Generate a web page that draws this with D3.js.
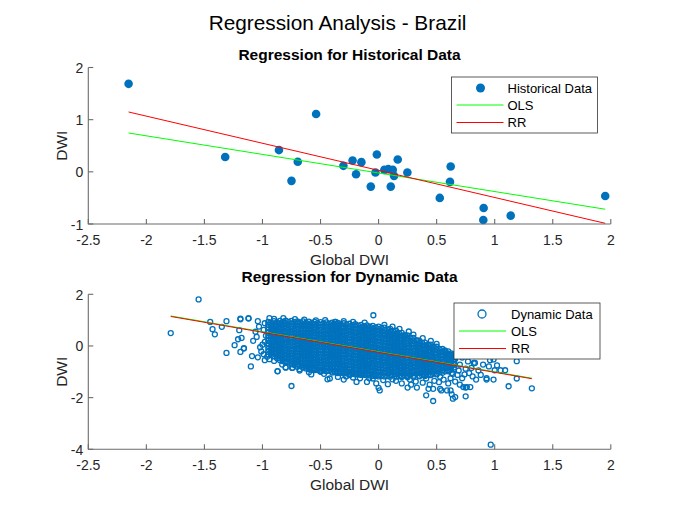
<!DOCTYPE html>
<meta charset="utf-8">
<style>
body {
  margin: 0;
  background: #fff;
}
text {
  font-family: "Liberation Sans", Arial, sans-serif;
  fill: #262626;
}
.axis-line {
  fill: none;
  stroke: #6b6b6b;
  stroke-width: 1.1px;
}
.tick-label {
  font-size: 14px;
}
.ax-label {
  font-size: 15.5px;
}
.sub-title {
  font-size: 15.5px;
  font-weight: bold;
  fill: #000;
}
.main-title {
  font-size: 20.8px;
  fill: #000;
}
.legend-box {
  fill: #fff;
  stroke: #333;
  stroke-width: .8px;
}
.legend-text {
  font-size: 13px;
  fill: #000;
}
</style>
<body>
<script src="https://d3js.org/d3.v7.min.js"></script>
<script>

var width = 675,
    height = 506;

var blue = "#0072BD",
    green = "#00ff00",
    red = "#ff0000";

// tick labels
var xTicks = [-2.5, -2, -1.5, -1, -0.5, 0, 0.5, 1, 1.5, 2];
var histYTicks = [-1, 0, 1, 2];
var dynYTicks = [-4, -2, 0, 2];

// historical data
var histX = [-2.153, -1.321, -0.858, -0.750, -0.696, -0.538, -0.303, -0.224, -0.194,
  -0.148, -0.067, -0.015, -0.027, 0.050, 0.084, 0.122, 0.133, 0.105, 0.165, 0.248,
  0.527, 0.621, 0.615, 0.905, 0.902, 1.138, 1.952];
var histY = [1.687, 0.283, 0.417, -0.173, 0.192, 1.109, 0.115, 0.218, -0.045,
  0.186, -0.283, 0.333, -0.013, 0.038, 0.051, 0.038, -0.077, -0.283, 0.237, -0.013,
  -0.500, 0.102, -0.192, -0.692, -0.923, -0.840, -0.462];

// fitted lines [intercept, slope]
var histOlsCoef = [-0.022, -0.356];
var histRrCoef = [0.028, -0.520];
var dynOlsCoef = [-0.225, -0.775];
var dynRrCoef = [-0.245, -0.775];

// dynamic data: dense core, read column by column
var dynCoreX = [-0.95, -0.90, -0.85, -0.80, -0.75, -0.70, -0.65, -0.60, -0.55, -0.50,
  -0.45, -0.40, -0.35, -0.30, -0.25, -0.20, -0.15, -0.10, -0.05, 0.00,
  0.05, 0.10, 0.15, 0.20, 0.25, 0.30, 0.35, 0.40, 0.45, 0.50, 0.55, 0.60, 0.65];
var dynCoreY = [
  [0.93, 0.83, 0.72, 0.62, 0.52, 0.41, 0.31, 0.21, 0.10, 0.00, -0.11, -0.22, -0.33],
  [0.96, 0.85, 0.75, 0.64, 0.54, 0.44, 0.33, 0.23, 0.12, 0.02, -0.09, -0.19, -0.30, -0.40],
  [0.97, 0.87, 0.77, 0.66, 0.56, 0.46, 0.35, 0.25, 0.15, 0.04, -0.06, -0.17, -0.27, -0.38, -0.48, -0.55],
  [0.98, 0.88, 0.77, 0.67, 0.56, 0.46, 0.35, 0.25, 0.14, 0.04, -0.07, -0.17, -0.28, -0.38, -0.49, -0.59, -0.64],
  [0.97, 0.86, 0.76, 0.66, 0.55, 0.45, 0.34, 0.24, 0.13, 0.03, -0.08, -0.18, -0.29, -0.39, -0.50, -0.60, -0.71],
  [0.95, 0.85, 0.74, 0.64, 0.53, 0.43, 0.32, 0.22, 0.11, 0.01, -0.10, -0.20, -0.31, -0.41, -0.52, -0.62, -0.72, -0.80],
  [0.95, 0.84, 0.74, 0.63, 0.53, 0.42, 0.32, 0.21, 0.11, 0.00, -0.10, -0.21, -0.31, -0.42, -0.52, -0.63, -0.74, -0.84],
  [0.94, 0.84, 0.73, 0.63, 0.52, 0.42, 0.31, 0.21, 0.10, 0.00, -0.11, -0.21, -0.32, -0.42, -0.53, -0.63, -0.74, -0.84, -0.90],
  [0.93, 0.83, 0.72, 0.62, 0.51, 0.41, 0.30, 0.20, 0.09, -0.01, -0.12, -0.22, -0.33, -0.43, -0.54, -0.64, -0.75, -0.85, -0.93],
  [0.92, 0.82, 0.71, 0.61, 0.50, 0.40, 0.29, 0.19, 0.08, -0.02, -0.13, -0.23, -0.34, -0.44, -0.55, -0.65, -0.76, -0.86, -0.95],
  [0.91, 0.81, 0.70, 0.60, 0.49, 0.39, 0.28, 0.18, 0.07, -0.03, -0.14, -0.24, -0.35, -0.45, -0.56, -0.66, -0.77, -0.87, -0.98],
  [0.90, 0.80, 0.69, 0.59, 0.48, 0.38, 0.27, 0.17, 0.06, -0.04, -0.15, -0.25, -0.36, -0.46, -0.57, -0.67, -0.78, -0.88, -0.99, -1.03],
  [0.89, 0.79, 0.68, 0.58, 0.47, 0.37, 0.26, 0.16, 0.05, -0.05, -0.16, -0.26, -0.37, -0.47, -0.58, -0.68, -0.79, -0.89, -0.99, -1.05],
  [0.88, 0.77, 0.67, 0.56, 0.46, 0.35, 0.25, 0.14, 0.04, -0.07, -0.17, -0.28, -0.38, -0.49, -0.59, -0.70, -0.80, -0.91, -1.01, -1.07],
  [0.86, 0.76, 0.65, 0.55, 0.44, 0.34, 0.23, 0.13, 0.02, -0.08, -0.19, -0.29, -0.40, -0.50, -0.61, -0.71, -0.82, -0.92, -1.03, -1.09],
  [0.84, 0.74, 0.63, 0.53, 0.42, 0.32, 0.21, 0.11, 0.00, -0.10, -0.21, -0.31, -0.42, -0.52, -0.63, -0.73, -0.84, -0.94, -1.04, -1.10],
  [0.82, 0.72, 0.61, 0.51, 0.40, 0.30, 0.19, 0.09, -0.02, -0.12, -0.23, -0.33, -0.44, -0.54, -0.65, -0.75, -0.86, -0.96, -1.06, -1.12],
  [0.80, 0.70, 0.59, 0.49, 0.38, 0.28, 0.17, 0.07, -0.04, -0.14, -0.25, -0.35, -0.46, -0.56, -0.67, -0.77, -0.88, -0.98, -1.08, -1.14],
  [0.78, 0.68, 0.57, 0.47, 0.36, 0.26, 0.15, 0.05, -0.06, -0.16, -0.27, -0.37, -0.48, -0.58, -0.69, -0.79, -0.90, -1.00, -1.10, -1.16],
  [0.75, 0.65, 0.54, 0.44, 0.33, 0.23, 0.12, 0.02, -0.09, -0.19, -0.30, -0.40, -0.51, -0.61, -0.72, -0.82, -0.93, -1.03, -1.13, -1.18],
  [0.71, 0.61, 0.50, 0.40, 0.29, 0.19, 0.08, -0.02, -0.13, -0.23, -0.34, -0.44, -0.55, -0.65, -0.76, -0.86, -0.97, -1.07, -1.18],
  [0.66, 0.56, 0.45, 0.35, 0.24, 0.14, 0.03, -0.07, -0.18, -0.28, -0.39, -0.49, -0.60, -0.70, -0.81, -0.91, -1.02, -1.12, -1.19],
  [0.59, 0.49, 0.38, 0.28, 0.17, 0.07, -0.04, -0.14, -0.25, -0.35, -0.46, -0.56, -0.67, -0.77, -0.88, -0.98, -1.09, -1.19],
  [0.51, 0.41, 0.30, 0.20, 0.09, -0.01, -0.12, -0.22, -0.33, -0.43, -0.54, -0.64, -0.75, -0.85, -0.96, -1.06, -1.16, -1.20],
  [0.41, 0.31, 0.20, 0.10, -0.01, -0.11, -0.22, -0.32, -0.43, -0.53, -0.64, -0.74, -0.85, -0.95, -1.06, -1.16, -1.21],
  [0.31, 0.21, 0.10, 0.00, -0.11, -0.21, -0.32, -0.42, -0.53, -0.63, -0.74, -0.84, -0.95, -1.05, -1.15, -1.19],
  [0.21, 0.11, 0.00, -0.10, -0.21, -0.31, -0.42, -0.52, -0.63, -0.73, -0.84, -0.94, -1.05, -1.15, -1.18],
  [0.13, 0.03, -0.08, -0.18, -0.29, -0.39, -0.50, -0.60, -0.71, -0.81, -0.92, -1.02, -1.12, -1.16],
  [0.05, -0.05, -0.16, -0.26, -0.37, -0.47, -0.58, -0.68, -0.79, -0.89, -1.00, -1.10, -1.13],
  [-0.03, -0.13, -0.24, -0.34, -0.45, -0.55, -0.66, -0.76, -0.87, -0.97, -1.07, -1.10],
  [-0.11, -0.21, -0.32, -0.42, -0.53, -0.63, -0.74, -0.84, -0.95, -1.04],
  [-0.21, -0.31, -0.42, -0.52, -0.63, -0.73, -0.84, -0.94, -0.98],
  [-0.31, -0.41, -0.52, -0.62, -0.73, -0.83, -0.90]
];

// dynamic data: dense core, in-between columns
var dynMidX = [-0.925, -0.875, -0.825, -0.775, -0.725, -0.675, -0.625, -0.575, -0.525, -0.475,
  -0.425, -0.375, -0.325, -0.275, -0.225, -0.175, -0.125, -0.075, -0.025, 0.025,
  0.075, 0.125, 0.175, 0.225, 0.275, 0.325, 0.375, 0.425, 0.475, 0.525, 0.575, 0.625];
var dynMidY = [
  [0.90, 0.77, 0.64, 0.51, 0.38, 0.25, 0.12, -0.01, -0.14, -0.27, -0.36],
  [0.92, 0.79, 0.66, 0.53, 0.40, 0.27, 0.14, 0.01, -0.12, -0.25, -0.38, -0.48],
  [0.93, 0.80, 0.67, 0.54, 0.41, 0.28, 0.15, 0.02, -0.11, -0.24, -0.37, -0.50, -0.59],
  [0.93, 0.80, 0.67, 0.54, 0.41, 0.28, 0.15, 0.02, -0.11, -0.24, -0.37, -0.50, -0.63],
  [0.92, 0.79, 0.66, 0.53, 0.40, 0.27, 0.14, 0.01, -0.12, -0.25, -0.38, -0.51, -0.64, -0.74],
  [0.91, 0.78, 0.65, 0.52, 0.39, 0.26, 0.13, 0.00, -0.13, -0.26, -0.39, -0.52, -0.65, -0.78],
  [0.90, 0.77, 0.64, 0.51, 0.38, 0.25, 0.12, -0.01, -0.14, -0.27, -0.40, -0.53, -0.66, -0.79, -0.87],
  [0.89, 0.76, 0.63, 0.50, 0.37, 0.24, 0.11, -0.02, -0.15, -0.28, -0.41, -0.54, -0.67, -0.80, -0.90],
  [0.88, 0.75, 0.62, 0.49, 0.36, 0.23, 0.10, -0.03, -0.16, -0.29, -0.42, -0.55, -0.68, -0.81, -0.93],
  [0.87, 0.74, 0.61, 0.48, 0.35, 0.22, 0.09, -0.04, -0.17, -0.30, -0.43, -0.56, -0.69, -0.82, -0.95],
  [0.86, 0.73, 0.60, 0.47, 0.34, 0.21, 0.08, -0.05, -0.18, -0.31, -0.44, -0.57, -0.70, -0.83, -0.96],
  [0.85, 0.72, 0.59, 0.46, 0.33, 0.20, 0.07, -0.06, -0.19, -0.32, -0.45, -0.58, -0.71, -0.84, -0.97, -1.02],
  [0.84, 0.71, 0.58, 0.45, 0.32, 0.19, 0.06, -0.07, -0.20, -0.33, -0.46, -0.59, -0.72, -0.85, -0.98, -1.04],
  [0.83, 0.70, 0.57, 0.44, 0.31, 0.18, 0.05, -0.08, -0.21, -0.34, -0.47, -0.60, -0.73, -0.86, -0.99, -1.06],
  [0.81, 0.68, 0.55, 0.42, 0.29, 0.16, 0.03, -0.10, -0.23, -0.36, -0.49, -0.62, -0.75, -0.88, -1.01, -1.08],
  [0.79, 0.66, 0.53, 0.40, 0.27, 0.14, 0.01, -0.12, -0.25, -0.38, -0.51, -0.64, -0.77, -0.90, -1.03, -1.10],
  [0.77, 0.64, 0.51, 0.38, 0.25, 0.12, -0.01, -0.14, -0.27, -0.40, -0.53, -0.66, -0.79, -0.92, -1.05, -1.12],
  [0.75, 0.62, 0.49, 0.36, 0.23, 0.10, -0.03, -0.16, -0.29, -0.42, -0.55, -0.68, -0.81, -0.94, -1.07, -1.14],
  [0.72, 0.59, 0.46, 0.33, 0.20, 0.07, -0.06, -0.19, -0.32, -0.45, -0.58, -0.71, -0.84, -0.97, -1.10, -1.16],
  [0.69, 0.56, 0.43, 0.30, 0.17, 0.04, -0.09, -0.22, -0.35, -0.48, -0.61, -0.74, -0.87, -1.00, -1.13],
  [0.64, 0.51, 0.38, 0.25, 0.12, -0.01, -0.14, -0.27, -0.40, -0.53, -0.66, -0.79, -0.92, -1.05, -1.17],
  [0.58, 0.45, 0.32, 0.19, 0.06, -0.07, -0.20, -0.33, -0.46, -0.59, -0.72, -0.85, -0.98, -1.11],
  [0.51, 0.38, 0.25, 0.12, -0.01, -0.14, -0.27, -0.40, -0.53, -0.66, -0.79, -0.92, -1.05, -1.17],
  [0.42, 0.29, 0.16, 0.03, -0.10, -0.23, -0.36, -0.49, -0.62, -0.75, -0.88, -1.01, -1.14],
  [0.32, 0.19, 0.06, -0.07, -0.20, -0.33, -0.46, -0.59, -0.72, -0.85, -0.98, -1.11],
  [0.22, 0.09, -0.04, -0.17, -0.30, -0.43, -0.56, -0.69, -0.82, -0.95, -1.08],
  [0.13, 0.00, -0.13, -0.26, -0.39, -0.52, -0.65, -0.78, -0.91, -1.04, -1.13],
  [0.05, -0.08, -0.21, -0.34, -0.47, -0.60, -0.73, -0.86, -0.99, -1.10],
  [-0.03, -0.16, -0.29, -0.42, -0.55, -0.68, -0.81, -0.94, -1.07],
  [-0.11, -0.24, -0.37, -0.50, -0.63, -0.76, -0.89, -1.02],
  [-0.20, -0.33, -0.46, -0.59, -0.72, -0.85, -0.98],
  [-0.29, -0.42, -0.55, -0.68, -0.81, -0.92]
];

// dynamic data: scattered points around the core
var dynFringe = [
  [-1.55, 1.80], [-1.79, 0.50], [-1.45, 0.93], [-1.43, 0.65], [-1.41, 0.45], [-1.35, 0.74],
  [-1.31, 0.96], [-1.31, -0.27], [-1.24, 0.03], [-1.19, 1.03], [-1.19, -0.23], [-1.16, -0.08],
  [-1.20, 0.61], [-1.12, 1.08], [-1.21, 0.26], [-1.18, 0.31], [-1.10, -0.79], [-1.09, -0.39],
  [-1.04, -0.44], [-1.01, -0.21], [-0.98, -0.55], [-0.94, -0.51], [-0.87, -0.98], [-0.80, -0.82],
  [-0.75, -1.55], [-0.745, -0.85], [-0.60, -1.02], [-0.55, -0.90], [-0.50, -0.98], [-0.44, -1.29],
  [-0.94, 1.08], [-1.04, 0.96], [-1.16, -0.10], [-1.19, 1.06], [-1.12, 1.06], [-0.54, 0.99],
  [-0.37, 0.93], [-0.87, -0.97], [-0.80, -0.84], [-0.74, -0.84], [-0.50, -1.00], [-0.42, -1.26],
  [-0.25, -1.13], [-0.19, -1.39], [-0.10, -1.39], [-1.06, 0.55], [-1.08, 0.20], [-1.03, 0.75],
  [-1.00, 0.05], [-1.05, 0.35], [-0.99, -0.32], [-0.90, 1.05], [-0.82, 1.08], [-0.72, 1.04],
  [-0.64, 1.02], [-0.46, 1.00], [-0.30, 0.96], [-0.22, 0.93], [-0.12, 0.90], [-0.045, 1.19],
  [-0.375, 0.93], [0.05, 0.82], [0.12, 0.75], [0.18, 0.66], [0.23, 0.38], [0.30, 0.44],
  [0.33, 0.22], [0.26, 0.56], [0.38, 0.30], [0.45, 0.20], [0.50, 0.08], [0.47, -2.13],
  [0.41, -1.91], [0.63, -1.87], [0.64, -2.04], [0.66, -1.98], [0.75, -1.95], [0.75, -1.61],
  [0.01, -1.72], [0.00, -1.62], [0.33, -1.61], [0.43, -1.66], [0.47, -1.66], [0.53, -1.66],
  [0.59, -1.72], [0.25, -1.61], [-0.30, -1.30], [1.12, -1.56], [1.32, -1.64], [1.19, -0.59],
  [1.09, -0.94], [1.05, -0.94], [1.00, -0.94], [0.99, -1.30], [0.93, -1.30], [0.95, -0.79],
  [0.82, -0.66], [0.57, -0.17], [0.58, -0.25], [1.19, -1.26], [0.93, -1.25], [0.83, -0.66],
  [0.79, -1.59], [0.76, -1.59], [0.73, -1.59], [0.62, -1.72], [0.54, -1.72], [0.966, -3.82],
  [0.62, -0.35], [0.66, -0.50], [0.70, -0.72], [0.72, -0.45], [0.75, -0.88], [0.78, -1.05],
  [0.80, -0.85], [0.68, -1.12], [0.72, -1.25], [0.86, -0.95], [0.88, -1.12], [0.84, -1.30],
  [0.66, -1.38], [0.70, -1.50], [0.62, -1.25], [0.90, -0.72], [0.77, -0.60], [0.69, -0.95],
  [0.63, -1.05], [0.74, -1.10], [0.81, -1.18], [0.60, -1.45], [0.56, -1.30], [0.52, -1.40],
  [0.48, -1.35], [0.44, -1.50], [0.38, -1.42], [0.32, -1.38], [0.28, -1.50], [0.20, -1.45],
  [0.15, -1.35], [0.08, -1.48], [0.04, -1.32], [-0.02, -1.45], [-0.08, -1.25], [-0.16, -1.25],
  [-0.28, -1.18], [-0.35, -1.20], [-0.58, -1.10], [-0.68, -0.95], [0.96, -0.55], [1.02, -0.75],
  [0.99, -0.52], [-0.98, 0.88], [-0.99, 0.62], [-0.97, 0.40], [-0.98, 0.16], [-1.02, -0.05],
  [-0.96, -0.42], [-0.90, -0.58], [-0.83, -0.72], [-0.68, -0.90], [-0.47, -1.08], [-0.22, -1.22],
  [-0.05, -1.26], [0.12, -1.29], [0.27, -1.30], [0.41, -1.26], [0.53, -1.19], [0.64, -1.08]
];

var histData = histX.map(function(x, i) { return [x, histY[i]]; });

var dynData = [];
dynCoreX.forEach(function(x, i) {
  dynCoreY[i].forEach(function(y) { dynData.push([x, y]); });
});
dynMidX.forEach(function(x, i) {
  dynMidY[i].forEach(function(y) { dynData.push([x, y]); });
});
dynData = dynData.concat(dynFringe);

var svg = d3.select("body").append("svg")
    .attr("width", width)
    .attr("height", height);

var x = d3.scaleLinear().domain([-2.5, 2]).range([88.3, 610.8]);

svg.append("text")
    .attr("class", "main-title")
    .attr("x", width / 2)
    .attr("y", 30)
    .attr("text-anchor", "middle")
    .text("Regression Analysis - Brazil");

function panel(opt) {
  var y = d3.scaleLinear().domain(opt.yDomain).range([opt.bottom, opt.top]);
  var g = svg.append("g");
  var x0 = x.range()[0], x1 = x.range()[1];

  // points
  if (opt.filled) {
    g.selectAll(".pt")
        .data(opt.data)
      .enter().append("circle")
        .attr("cx", function(d) { return x(d[0]); })
        .attr("cy", function(d) { return y(d[1]); })
        .attr("r", 4.3)
        .style("fill", blue);
  } else {
    g.selectAll(".pt")
        .data(opt.data)
      .enter().append("circle")
        .attr("cx", function(d) { return x(d[0]); })
        .attr("cy", function(d) { return y(d[1]); })
        .attr("r", 2.5)
        .style("fill", "none")
        .style("stroke", blue)
        .style("stroke-width", 1.3);
  }

  // fitted lines over the data range
  var ext = d3.extent(opt.data, function(d) { return d[0]; });
  [[opt.ols, green], [opt.rr, red]].forEach(function(l) {
    var c = l[0];
    g.append("line")
        .attr("x1", x(ext[0]))
        .attr("y1", y(c[0] + c[1] * ext[0]))
        .attr("x2", x(ext[1]))
        .attr("y2", y(c[0] + c[1] * ext[1]))
        .style("stroke", l[1])
        .style("stroke-width", 1);
  });

  // axes (left and bottom only, ticks inward)
  g.append("path")
      .attr("class", "axis-line")
      .attr("d", "M" + x0 + "," + opt.top + "V" + opt.bottom + "H" + x1);

  xTicks.forEach(function(t) {
    g.append("line").attr("class", "axis-line")
        .attr("x1", x(t)).attr("x2", x(t))
        .attr("y1", opt.bottom).attr("y2", opt.bottom - 5);
    g.append("text").attr("class", "tick-label")
        .attr("x", x(t)).attr("y", opt.bottom + 21)
        .attr("text-anchor", "middle")
        .text(t);
  });
  opt.yTicks.forEach(function(t) {
    g.append("line").attr("class", "axis-line")
        .attr("x1", x0).attr("x2", x0 + 5)
        .attr("y1", y(t)).attr("y2", y(t));
    g.append("text").attr("class", "tick-label")
        .attr("x", x0 - 5).attr("y", y(t) + 5.5)
        .attr("text-anchor", "end")
        .text(t);
  });

  g.append("text").attr("class", "ax-label")
      .attr("x", (x0 + x1) / 2).attr("y", opt.bottom + 41)
      .attr("text-anchor", "middle")
      .text("Global DWI");
  g.append("text").attr("class", "ax-label")
      .attr("transform", "translate(67," + ((opt.top + opt.bottom) / 2) + ") rotate(-90)")
      .attr("text-anchor", "middle")
      .text("DWI");
  g.append("text").attr("class", "sub-title")
      .attr("x", (x0 + x1) / 2).attr("y", opt.titleY)
      .attr("text-anchor", "middle")
      .text(opt.title);

  // legend
  var lg = g.append("g").attr("transform", "translate(" + opt.legend[0] + "," + opt.legend[1] + ")");
  lg.append("rect").attr("class", "legend-box")
      .attr("width", 146).attr("height", 56);
  if (opt.filled) {
    lg.append("circle").attr("cx", 29).attr("cy", 11).attr("r", 4.5).style("fill", blue);
  } else {
    lg.append("circle").attr("cx", 28).attr("cy", 11).attr("r", 4)
        .style("fill", "none").style("stroke", blue).style("stroke-width", 1.3);
  }
  lg.append("line").attr("x1", 5).attr("x2", 52).attr("y1", 28).attr("y2", 28)
      .style("stroke", green);
  lg.append("line").attr("x1", 5).attr("x2", 52).attr("y1", 45.5).attr("y2", 45.5)
      .style("stroke", red);
  [opt.name, "OLS", "RR"].forEach(function(s, i) {
    lg.append("text").attr("class", "legend-text")
        .attr("x", opt.legendTextX).attr("y", 15.5 + i * 17.3)
        .text(s);
  });
}

panel({
  data: histData, filled: true,
  yDomain: [-1, 2], yTicks: histYTicks,
  top: 67.5, bottom: 224, titleY: 60,
  ols: histOlsCoef, rr: histRrCoef,
  title: "Regression for Historical Data",
  name: "Historical Data",
  legend: [451.5, 77], legendTextX: 56
});

panel({
  data: dynData, filled: false,
  yDomain: [-4, 2], yTicks: dynYTicks,
  top: 294.3, bottom: 449.3, titleY: 281.5,
  ols: dynOlsCoef, rr: dynRrCoef,
  title: "Regression for Dynamic Data",
  name: "Dynamic Data",
  legend: [454, 303], legendTextX: 57
});

</script>
